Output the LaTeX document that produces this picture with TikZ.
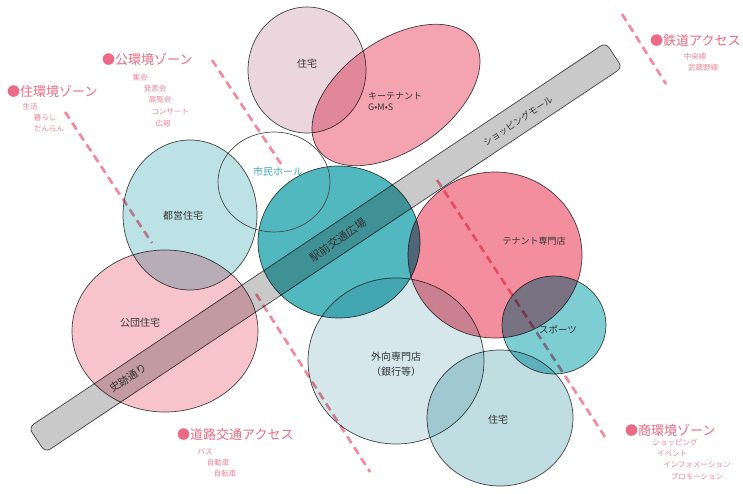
\documentclass[tikz,border=0pt]{standalone}
\usepackage{fontspec}
\setmainfont{Noto Sans CJK JP}
\definecolor{zonepink}{HTML}{EC6A83}
\definecolor{itempink}{HTML}{EE8597}
\definecolor{dashpink}{HTML}{F4889A}
\definecolor{cMauve}{HTML}{EBD6DE}
\definecolor{cKey}{HTML}{F4A3B0}
\definecolor{cToei}{HTML}{BDE2E5}
\definecolor{cKodan}{HTML}{F7C4CC}
\definecolor{cEki}{HTML}{52B8BF}
\definecolor{cTenant}{HTML}{F38E9E}
\definecolor{cSport}{HTML}{7ECDD2}
\definecolor{cGaiko}{HTML}{D5E7EB}
\definecolor{cJutaku}{HTML}{C0DDE2}
\definecolor{barg}{HTML}{C9C9C9}
\definecolor{lineg}{HTML}{4A4A4A}
\definecolor{hallc}{HTML}{3AAAB5}
\definecolor{lblc}{HTML}{333333}
\tikzset{
  blob/.style={draw=lineg, line width=0.7pt, blend mode=multiply},
  zonehead/.style={text=zonepink, font=\fontsize{13}{13}\selectfont, anchor=west, inner sep=0pt},
  zoneitem/.style={text=itempink, font=\fontsize{7.5}{8}\selectfont, inner sep=0pt},
  lbl/.style={text=lblc, font=\fontsize{10}{10}\selectfont, inner sep=0pt},
  zoneline/.style={draw=dashpink, line width=2.6pt, dash pattern=on 8pt off 5pt},
}
\begin{document}
\begin{tikzpicture}[x=1pt,y=-1pt]
\useasboundingbox (0,0) rectangle (743,494);
\fill[white] (0,0) rectangle (743,494);

% zone boundary dashed lines
\coordinate (l1a) at (65,112);  \coordinate (l1b) at (152,243);
\coordinate (l2a) at (212,60);  \coordinate (l2b) at (281,164);
\coordinate (l3a) at (622,14);  \coordinate (l3b) at (666,84);
\coordinate (l4a) at (437,180); \coordinate (l4b) at (607,440);
\coordinate (l5a) at (256,294); \coordinate (l5b) at (370,472);
\draw[zoneline] (l1a) -- (l1b);
\draw[zoneline] (l2a) -- (l2b);
\draw[zoneline] (l3a) -- (l3b);
\draw[zoneline] (l4a) -- (l4b);
\draw[zoneline] (l5a) -- (l5b);

% circles
\draw[blob, fill=cMauve] (307,70) ellipse [x radius=59pt, y radius=63pt];
\draw[blob, fill=cKey, rotate around={35:(396,95)}] (396,95) ellipse [x radius=95pt, y radius=55pt];
\draw[blob, fill=cToei] (190,215) ellipse [x radius=67pt, y radius=75pt];
\draw[blob, fill=cKodan] (165,331) ellipse [x radius=93pt, y radius=81pt];
\draw[blob, fill=cEki] (339,242) ellipse [x radius=81pt, y radius=76pt];
\draw[blob, fill=cTenant] (495,255) ellipse [x radius=87pt, y radius=83pt];
\draw[blob, fill=cSport] (554,325) ellipse [x radius=52pt, y radius=49pt];
\draw[blob, fill=cGaiko] (396,361) ellipse [x radius=88pt, y radius=83pt];
\draw[blob, fill=cJutaku] (500,418) ellipse [x radius=73pt, y radius=68pt];

% bar
\draw[blob, fill=barg, rounded corners=6pt, rotate around={33.7:(325.5,247.5)}]
  (-21.3,232.5) rectangle (672.3,262.5);

% civic hall outline
\draw[draw=lineg, line width=0.7pt] (274,182) ellipse [x radius=56pt, y radius=50pt];

% circle labels
\node[lbl] (jutaku1) at (307,64) {住宅};
\node[lbl, font=\fontsize{9}{11}\selectfont, align=left, anchor=north west] (key) at (368,92) {キーテナント\\G•M•S};
\node[lbl, text=hallc] (hall) at (278,172) {市民ホール};
\node[lbl] (toei) at (183,216) {都営住宅};
\node[lbl] (kodan) at (140,323) {公団住宅};
\node[lbl, font=\fontsize{11}{11}\selectfont, rotate=35] (eki) at (338,240) {駅前交通広場};
\node[lbl, font=\fontsize{9}{9}\selectfont, rotate=33.7] (mall) at (518,121) {ショッピングモール};
\node[lbl, font=\fontsize{10.5}{10.5}\selectfont, rotate=33.7] (shiseki) at (128,378) {史跡通り};
\node[lbl, font=\fontsize{9}{9}\selectfont] (tenant) at (534,241) {テナント専門店};
\node[lbl, font=\fontsize{9.5}{9.5}\selectfont] (sport) at (558,330) {スポーツ};
\node[lbl, align=center, font=\fontsize{10}{15}\selectfont] (gaiko) at (396,364) {外向専門店\\（銀行等）};
\node[lbl] (jutaku2) at (498,420) {住宅};

% zone labels
\node[zonehead] (z1) at (7,91) {●住環境ゾーン};
\node[zoneitem] (z1a) at (30,107) {生活};
\node[zoneitem] (z1b) at (45,118) {暮らし};
\node[zoneitem] (z1c) at (49,129) {だんらん};

\node[zonehead] (z2) at (102,60) {●公環境ゾーン};
\node[zoneitem] (z2a) at (140,78) {集会};
\node[zoneitem] (z2b) at (155,89) {発表会};
\node[zoneitem] (z2c) at (160,100) {展覧会};
\node[zoneitem] (z2d) at (170,112) {コンサート};
\node[zoneitem] (z2e) at (163,124) {広報};

\node[zonehead] (z3) at (650,41) {●鉄道アクセス};
\node[zoneitem] (z3a) at (695,57) {中央線};
\node[zoneitem] (z3b) at (703,68) {武蔵野線};

\node[zonehead] (z4) at (177,435) {●道路交通アクセス};
\node[zoneitem] (z4a) at (205,452) {バス};
\node[zoneitem] (z4b) at (218,463) {自動車};
\node[zoneitem] (z4c) at (225,474) {自転車};

\node[zonehead] (z5) at (625,430) {●商環境ゾーン};
\node[zoneitem] (z5a) at (675,443) {ショッピング};
\node[zoneitem] (z5b) at (672,454) {イベント};
\node[zoneitem] (z5c) at (697,465) {インフォメーション};
\node[zoneitem] (z5d) at (697,477) {プロモーション};
\end{tikzpicture}
\end{document}
